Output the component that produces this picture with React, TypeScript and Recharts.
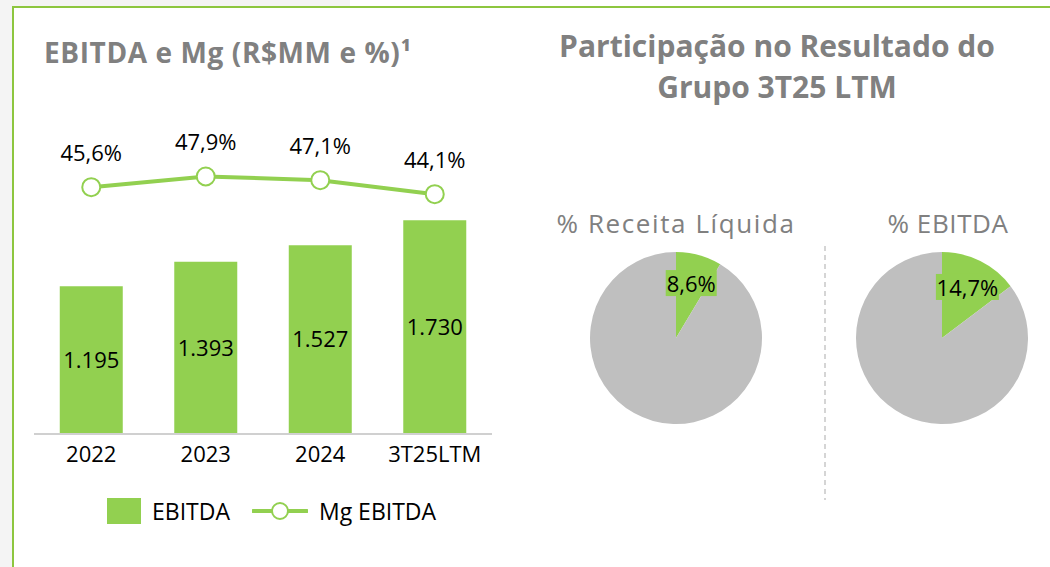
import React from 'react';
import { ComposedChart, Bar, Line, XAxis, YAxis, LabelList, Legend, PieChart, Pie, Cell } from 'recharts';

const categories = ['2022', '2023', '2024', '3T25LTM'];
const ebitdaValues = [1195, 1393, 1527, 1730];
const marginValues = [45.6, 47.9, 47.1, 44.1];
const receitaShare = [8.6, 91.4];
const ebitdaShare = [14.7, 85.3];

const GREEN = '#92D050';
const GRAY = '#BFBFBF';
const TITLE_GRAY = '#808080';
const FONT = '"Open Sans", sans-serif';

const barData = categories.map((c, i) => ({ name: c, ebitda: ebitdaValues[i], mg: marginValues[i] }));
const pie1 = receitaShare.map((v, i) => ({ name: i === 0 ? 'Grupo' : 'Outros', value: v }));
const pie2 = ebitdaShare.map((v, i) => ({ name: i === 0 ? 'Grupo' : 'Outros', value: v }));

const fmtPct = (v: number) => v.toFixed(1).replace('.', ',') + '%';
const fmtThousands = (v: number) => {
  const s = String(Math.round(v));
  return s.replace(/\B(?=(\d{3})+(?!\d))/g, '.');
};

const RAD = Math.PI / 180;
const pieLabel = (props: any) => {
  const { cx, cy, midAngle, index, value } = props;
  if (index !== 0) return null;
  const r = 57;
  const x = cx + r * Math.cos(-midAngle * RAD);
  const y = cy + r * Math.sin(-midAngle * RAD);
  const txt = fmtPct(value);
  const w = txt.length * 12 + 3;
  return (
    <g>
      <rect x={x - w / 2} y={y - 13} width={w} height={26} fill={GREEN} />
      <text x={x} y={y} textAnchor="middle" dominantBaseline="central" fontFamily={FONT} fontSize={22} fill="#000">
        {txt}
      </text>
    </g>
  );
};

const LegendContent = () => (
  <div style={{ display: 'flex', alignItems: 'center', fontFamily: FONT, fontSize: 23, color: '#000' }}>
    <div style={{ width: 34, height: 26, background: GREEN }} />
    <span style={{ marginLeft: 11 }}>EBITDA</span>
    <svg width={56} height={26} style={{ marginLeft: 22 }}>
      <line x1={1} y1={13} x2={55} y2={13} stroke={GREEN} strokeWidth={4} strokeLinecap="round" />
      <circle cx={28} cy={13} r={8} fill="#fff" stroke={GREEN} strokeWidth={2} />
    </svg>
    <span style={{ marginLeft: 11 }}>Mg EBITDA</span>
  </div>
);

export default function App() {
  return (
    <div style={{ position: 'fixed', left: 0, top: 0, width: 1050, height: 567, background: '#f4f4f4', overflow: 'hidden' }}>
      <div style={{ position: 'absolute', left: 350, top: 0, width: 700, height: 6, background: '#ffffff' }} />
      <div
        style={{
          position: 'absolute',
          left: 12,
          top: 6,
          width: 1100,
          height: 600,
          background: '#ffffff',
          borderLeft: '2px solid #8DC63F',
          borderTop: '2px solid #8DC63F',
        }}
      />
      <div
        style={{
          position: 'absolute',
          left: 44,
          top: 32,
          fontFamily: FONT,
          fontWeight: 700,
          fontSize: 28,
          letterSpacing: 0.6,
          color: TITLE_GRAY,
          whiteSpace: 'nowrap',
          lineHeight: '40px',
        }}
      >
        EBITDA e Mg (R$MM e %)¹
      </div>
      <div
        style={{
          position: 'absolute',
          left: 520,
          top: 25,
          width: 514,
          textAlign: 'center',
          fontFamily: FONT,
          fontWeight: 700,
          fontSize: 30,
          color: TITLE_GRAY,
          lineHeight: '41px',
        }}
      >
        Participação no Resultado do
        <br />
        Grupo 3T25 LTM
      </div>
      <div style={{ position: 'absolute', left: 546, top: 205, width: 260, textAlign: 'center', fontFamily: FONT, fontSize: 26, letterSpacing: 1.6, color: TITLE_GRAY, lineHeight: '36px', whiteSpace: 'nowrap' }}>
        % Receita Líquida
      </div>
      <div style={{ position: 'absolute', left: 818, top: 205, width: 260, textAlign: 'center', fontFamily: FONT, fontSize: 26, letterSpacing: 0.6, color: TITLE_GRAY, lineHeight: '36px' }}>
        % EBITDA
      </div>
      <svg style={{ position: 'absolute', left: 820, top: 240 }} width={10} height={265}>
        <line x1={5} y1={6} x2={5} y2={260} stroke="#C8C8C8" strokeWidth={1.5} strokeDasharray="5 4" />
      </svg>

      <div style={{ position: 'absolute', left: 0, top: 0 }}>
        <ComposedChart
          width={530}
          height={567}
          data={barData}
          margin={{ top: 120, right: 38, bottom: 103, left: 34 }}
          barCategoryGap="22.5%"
        >
          <XAxis
            dataKey="name"
            height={30}
            axisLine={{ stroke: '#D0D0D0', strokeWidth: 2 }}
            tickLine={false}
            tick={{ fill: '#000', fontSize: 22, fontFamily: FONT }}
            tickMargin={6}
            interval={0}
          />
          <YAxis yAxisId="bar" hide domain={[0, 2540]} />
          <YAxis yAxisId="mg" hide domain={[-7.3, 60]} orientation="right" />
          <Bar yAxisId="bar" dataKey="ebitda" fill={GREEN} isAnimationActive={false}>
            <LabelList dataKey="ebitda" position="center" formatter={(v: any) => fmtThousands(Number(v))} fill="#000" fontSize={22} fontFamily={FONT} />
          </Bar>
          <Line
            yAxisId="mg"
            dataKey="mg"
            stroke={GREEN}
            strokeWidth={4}
            dot={{ r: 9, fill: '#fff', stroke: GREEN, strokeWidth: 2 }}
            activeDot={false}
            isAnimationActive={false}
          >
            <LabelList dataKey="mg" position="top" offset={26} formatter={(v: any) => fmtPct(Number(v))} fill="#000" fontSize={22} fontFamily={FONT} />
          </Line>
          <Legend
            layout="horizontal"
            verticalAlign="middle"
            align="center"
            wrapperStyle={{ left: 107, top: 495, width: 400 }}
            content={() => <LegendContent />}
          />
        </ComposedChart>
      </div>

      <div style={{ position: 'absolute', left: 540, top: 240 }}>
        <PieChart width={510} height={200} margin={{ top: 0, right: 0, bottom: 0, left: 0 }}>
          <Pie
            data={pie1}
            dataKey="value"
            cx={136}
            cy={98}
            outerRadius={86}
            startAngle={90}
            endAngle={-270}
            stroke="none"
            labelLine={false}
            label={pieLabel}
            isAnimationActive={false}
          >
            {pie1.map((d, i) => (
              <Cell key={i} fill={i === 0 ? GREEN : GRAY} />
            ))}
          </Pie>
          <Pie
            data={pie2}
            dataKey="value"
            cx={402}
            cy={98}
            outerRadius={86}
            startAngle={90}
            endAngle={-270}
            stroke="none"
            labelLine={false}
            label={pieLabel}
            isAnimationActive={false}
          >
            {pie2.map((d, i) => (
              <Cell key={i} fill={i === 0 ? GREEN : GRAY} />
            ))}
          </Pie>
        </PieChart>
      </div>
    </div>
  );
}
